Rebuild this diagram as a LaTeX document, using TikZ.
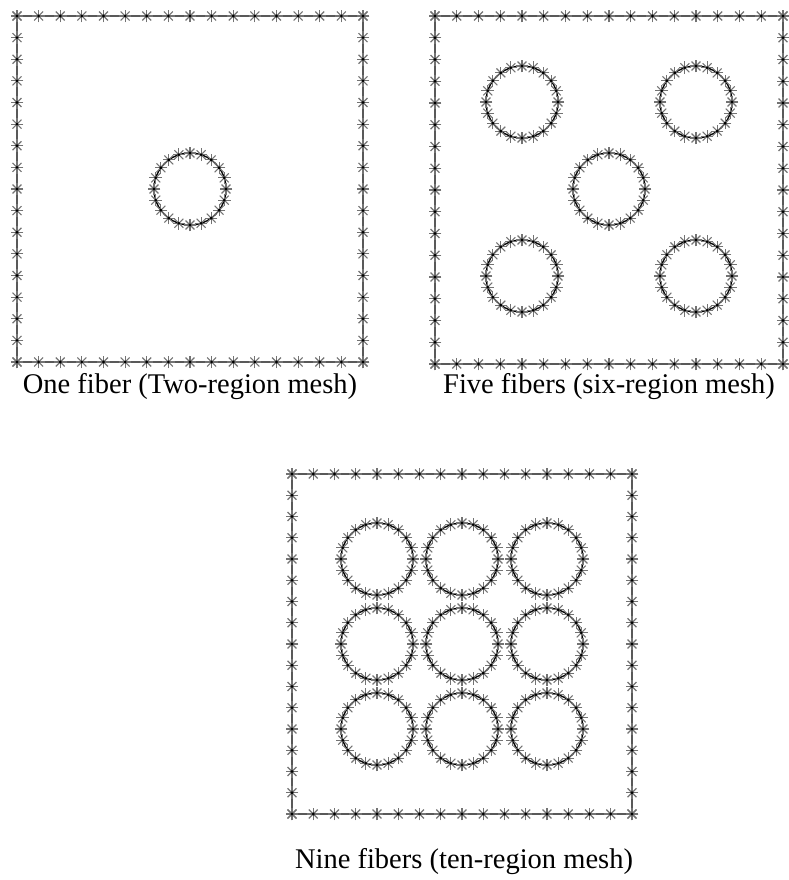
\documentclass[tikz,border=0pt]{standalone}
\usepackage{fontspec}
\setmainfont{Liberation Serif}
\tikzset{
  markarm/.style={draw=black!55, line width=1.1pt},
  mk/.pic={\foreach \a in {0,45,90,135}{\draw[markarm] (\a:6.3)--(\a+180:6.3);}\fill[black] (0,0) circle (1.6);},
  boxline/.style={draw=black!65, line width=1.8pt},
  fibline/.style={draw=black, line width=1.3pt},
  lab/.style={font=\fontsize{28.5}{32}\selectfont, anchor=base, inner sep=0pt}
}
\newcommand\meshbox[3]{%
  \draw[boxline] (#1,#2) rectangle (#1+#3,#2+#3);
  \foreach \i in {0,...,16}{%
    \pgfmathsetmacro\tt{#3*\i/16}%
    \pic at (#1+\tt,#2) {mk};
    \pic at (#1+\tt,#2+#3) {mk};
    \pic at (#1,#2+\tt) {mk};
    \pic at (#1+#3,#2+\tt) {mk};
  }}
\newcommand\fiber[2]{%
  \draw[fibline] (#1,#2) circle (36);
  \foreach \a in {0,18,...,342}{\pic at ([shift={(\a:36)}]#1,#2) {mk};}}
\begin{document}
\begin{tikzpicture}[x=1pt,y=-1pt]
\useasboundingbox (0,0) rectangle (788,880);
% box 1
\meshbox{17}{16}{346}
\fiber{190}{189}
% box 2
\meshbox{435}{16}{348}
\fiber{522}{102}
\fiber{696}{102}
\fiber{609}{189}
\fiber{522}{276}
\fiber{696}{276}
% box 3
\meshbox{292}{474}{340}
\foreach \cx in {377,462,547}{\foreach \cy in {559,644,729}{\fiber{\cx}{\cy}}}
\node[lab] (l1) at (190,393) {One fiber (Two-region mesh)};
\node[lab] (l2) at (609,393) {Five fibers (six-region mesh)};
\node[lab] (l3) at (464,868) {Nine fibers (ten-region mesh)};
\end{tikzpicture}
\end{document}
